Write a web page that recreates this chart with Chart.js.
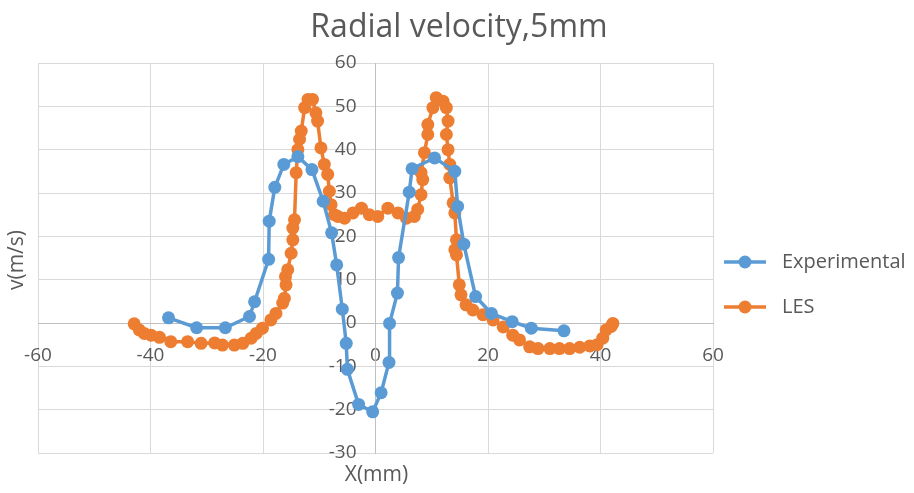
<!DOCTYPE html>
<html>
<head>
<meta charset="utf-8">
<title>Radial velocity, 5mm</title>
<script src="https://cdn.jsdelivr.net/npm/chart.js@4.4.1/dist/chart.umd.min.js"></script>
<style>
  html, body { margin: 0; padding: 0; background: #fff; }
  #wrap { width: 914px; height: 493px; }
</style>
</head>
<body>
<div id="wrap"><canvas id="velocityChart" width="914" height="493"></canvas></div>
<script>
// measured radial velocity
const expX = [-36.8, -31.8, -26.7, -22.4, -21.5, -19.0, -18.9, -17.9, -16.3, -13.8, -11.3, -9.3, -7.8, -6.9, -5.9, -5.2, -5.0, -3.0, -0.5,
  1.0, 2.4, 2.5, 3.9, 4.1, 6.0, 6.5, 10.5, 14.1, 14.6, 15.7, 17.8, 20.6, 24.3, 27.7, 33.5];
const expY = [1.2, -1.1, -1.1, 1.5, 4.9, 14.7, 23.5, 31.3, 36.6, 38.4, 35.4, 28.1, 20.8, 13.4, 3.2, -4.7, -10.7, -18.8, -20.5,
  -16.1, -9.1, -0.1, 6.9, 15.1, 30.2, 35.6, 38.1, 35.0, 26.9, 18.2, 6.1, 2.2, 0.3, -1.2, -1.8];

// LES result
const lesX = [-42.9, -42.0, -41.1, -39.9, -38.4, -36.4, -33.4, -31.0, -28.6, -27.2, -25.1, -23.6, -22.1, -21.2, -20.1, -18.6, -17.7,
  -16.5, -16.2, -15.9, -16.0, -15.6, -15.0, -14.7, -14.7, -14.4, -14.1, -13.8, -13.5, -13.2, -12.6, -12.0, -11.2, -10.6, -10.3,
  -9.7, -9.1, -8.5, -8.2, -7.9, -7.3, -6.7, -5.5, -4.0, -2.5, -1.1, 0.4, 2.2, 4.0, 5.5, 6.9, 7.5, 8.1, 8.4, 8.1, 8.7, 9.3, 9.3,
  10.2, 10.8, 12.0, 12.6, 12.9, 12.6, 12.9, 13.2, 13.2, 13.8, 14.1, 14.4, 14.1, 14.4, 14.9, 15.2, 16.1, 17.3, 19.1, 20.9, 22.7,
  24.4, 25.6, 27.4, 28.9, 31.0, 32.7, 34.5, 36.3, 38.1, 39.4, 40.4, 41.0, 41.9, 42.2];
const lesY = [-0.2, -1.6, -2.4, -2.8, -3.3, -4.3, -4.3, -4.7, -4.6, -5.1, -5.1, -4.7, -3.5, -2.4, -1.2, 0.7, 2.2,
  4.6, 5.7, 8.8, 10.7, 12.3, 16.1, 19.2, 21.9, 23.8, 34.7, 40.0, 42.4, 44.3, 49.7, 51.6, 51.6, 48.5, 46.6,
  40.4, 36.6, 34.3, 30.4, 27.3, 25.0, 24.6, 24.2, 25.4, 26.5, 25.0, 24.6, 26.5, 25.4, 24.2, 24.6, 26.2, 29.6, 33.1, 34.7, 39.3, 43.5, 45.8,
  49.7, 52.0, 51.2, 49.7, 46.6, 43.5, 40.0, 36.6, 33.5, 27.7, 25.4, 19.2, 16.9, 15.7, 8.8, 6.5, 4.2, 3.0, 1.9, 0.7, -0.9,
  -2.8, -3.9, -5.5, -5.9, -5.9, -5.9, -5.9, -5.6, -5.3, -5.0, -3.5, -1.6, -0.8, -0.1];

const xTicks = [-60, -40, -20, 0, 20, 40, 60];
const yTicks = [-30, -20, -10, 0, 10, 20, 30, 40, 50, 60];

const seriesNames = ['Experimental', 'LES'];
const seriesColors = ['#5B9BD5', '#ED7D31'];

const textColor = '#595959';
const gridColor = '#d9d9d9';
const fontFamily = '"Open Sans", "Liberation Sans", sans-serif';

function toPoints(xs, ys) {
  return xs.map((x, i) => ({ x: x, y: ys[i] }));
}

// y tick labels go under the data, just left of the vertical zero line
const yLabelsPlugin = {
  id: 'yLabels',
  beforeDatasetsDraw(chart) {
    const ctx = chart.ctx;
    const xScale = chart.scales.x;
    const yScale = chart.scales.y;
    const x0 = xScale.getPixelForValue(0) - 19;
    ctx.save();
    ctx.fillStyle = textColor;
    ctx.font = '19px ' + fontFamily;
    ctx.textAlign = 'right';
    ctx.textBaseline = 'middle';
    yScale.ticks.forEach(t => {
      ctx.fillText(String(t.value), x0, yScale.getPixelForValue(t.value));
    });
    ctx.restore();
  }
};

// title, axis titles and the line+marker legend on the right
const extrasPlugin = {
  id: 'extras',
  afterDraw(chart) {
    const ctx = chart.ctx;
    const area = chart.chartArea;
    ctx.save();
    ctx.fillStyle = textColor;
    ctx.textAlign = 'center';
    ctx.textBaseline = 'middle';

    ctx.font = '32px ' + fontFamily;
    ctx.fillText('Radial velocity,5mm', 459, 28);

    ctx.font = '21px ' + fontFamily;
    ctx.fillText('X(mm)', (area.left + area.right) / 2 + 1, 475);

    ctx.save();
    ctx.translate(17, (area.top + area.bottom) / 2 + 2);
    ctx.rotate(-Math.PI / 2);
    ctx.fillText('v(m/s)', 0, 0);
    ctx.restore();

    ctx.font = '20px ' + fontFamily;
    const legendY = [262, 307];
    seriesNames.forEach((name, i) => {
      const y = legendY[i];
      ctx.strokeStyle = seriesColors[i];
      ctx.lineWidth = 3.5;
      ctx.beginPath();
      ctx.moveTo(724, y);
      ctx.lineTo(766, y);
      ctx.stroke();
      ctx.fillStyle = seriesColors[i];
      ctx.beginPath();
      ctx.arc(745, y, 6.5, 0, Math.PI * 2);
      ctx.fill();
      ctx.fillStyle = textColor;
      ctx.textAlign = 'left';
      ctx.fillText(name, 782, y);
    });
    ctx.restore();
  }
};

const ctx = document.getElementById('velocityChart').getContext('2d');

const lineStyle = {
  showLine: true,
  borderWidth: 3.5,
  pointRadius: 6.5,
  pointBorderWidth: 0,
  tension: 0
};

const config = {
  type: 'scatter',
  data: {
    datasets: [
      Object.assign({
        label: seriesNames[0],
        data: toPoints(expX, expY),
        borderColor: seriesColors[0],
        backgroundColor: seriesColors[0]
      }, lineStyle),
      Object.assign({
        label: seriesNames[1],
        data: toPoints(lesX, lesY),
        borderColor: seriesColors[1],
        backgroundColor: seriesColors[1]
      }, lineStyle)
    ]
  },
  options: {
    responsive: false,
    animation: false,
    layout: { padding: { left: 38, right: 201, top: 63, bottom: 40 } },
    plugins: {
      legend: { display: false },
      tooltip: { enabled: false },
      title: { display: false }
    },
    scales: {
      x: {
        type: 'linear',
        min: -60,
        max: 60,
        position: { y: 0 },
        afterBuildTicks: (scale) => { scale.ticks = xTicks.map(v => ({ value: v })); },
        ticks: { color: textColor, font: { family: fontFamily, size: 19 }, padding: 21, maxRotation: 0 },
        grid: { color: gridColor, lineWidth: 1, drawTicks: false },
        border: { color: '#bfbfbf', width: 1 }
      },
      y: {
        type: 'linear',
        min: -30,
        max: 60,
        position: { x: 0 },
        afterBuildTicks: (scale) => { scale.ticks = yTicks.map(v => ({ value: v })); },
        ticks: { display: false },
        grid: { color: gridColor, lineWidth: 1, drawTicks: false },
        border: { color: '#bfbfbf', width: 1 }
      }
    }
  },
  plugins: [yLabelsPlugin, extrasPlugin]
};

const velocityChart = new Chart(ctx, config);
</script>
</body>
</html>
